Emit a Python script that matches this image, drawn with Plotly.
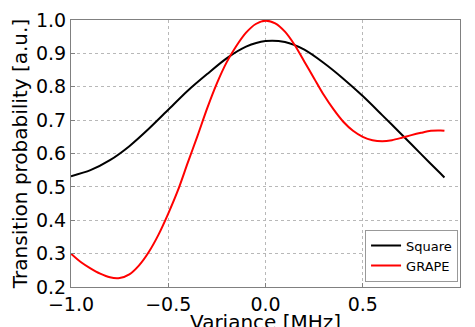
import plotly.graph_objects as go

square_x = [-1.0, -0.9, -0.8, -0.7, -0.6, -0.5, -0.4, -0.3, -0.2, -0.1, 0.0, 0.1, 0.2, 0.3, 0.4, 0.5, 0.6, 0.7, 0.8, 0.9, 0.92]
square_y = [0.532, 0.55, 0.58, 0.622, 0.674, 0.731, 0.788, 0.838, 0.885, 0.92, 0.937, 0.934, 0.911, 0.871, 0.824, 0.772, 0.715, 0.657, 0.598, 0.54, 0.528]

grape_x = [-1.0, -0.95, -0.9, -0.85, -0.8, -0.75, -0.7, -0.65, -0.6, -0.55, -0.5, -0.45, -0.4, -0.35, -0.3, -0.25,
           -0.2, -0.15, -0.1, -0.05, 0.0, 0.05, 0.1, 0.15, 0.2, 0.25, 0.3, 0.35, 0.4, 0.45, 0.5, 0.55, 0.6, 0.65,
           0.7, 0.75, 0.8, 0.85, 0.9, 0.92]
grape_y = [0.30, 0.275, 0.256, 0.24, 0.229, 0.227, 0.238, 0.265, 0.305, 0.357, 0.42, 0.49, 0.572, 0.652, 0.735, 0.81,
           0.873, 0.922, 0.962, 0.988, 0.998, 0.99, 0.965, 0.925, 0.875, 0.825, 0.775, 0.732, 0.695, 0.668, 0.65, 0.64,
           0.637, 0.64, 0.647, 0.655, 0.662, 0.668, 0.669, 0.668]

x_ticks = [-1.0, -0.5, 0.0, 0.5, 1.0]
x_tick_labels = ["\u22121.0", "\u22120.5", "0.0", "0.5", "1.0"]
y_ticks = [0.2, 0.3, 0.4, 0.5, 0.6, 0.7, 0.8, 0.9, 1.0]
y_tick_labels = ["0.2", "0.3", "0.4", "0.5", "0.6", "0.7", "0.8", "0.9", "1.0"]
x_title = "Variance [MHz]"
y_title = "Transition probability [a.u.]"

FONT = "DejaVu Sans"

fig = go.Figure()
fig.add_trace(go.Scatter(x=square_x, y=square_y, mode="lines", name="Square",
                         line=dict(color="black", width=2, shape="spline", smoothing=0.8)))
fig.add_trace(go.Scatter(x=grape_x, y=grape_y, mode="lines", name="GRAPE",
                         line=dict(color="red", width=2, shape="spline", smoothing=0.8)))

fig.add_annotation(text=x_title, xref="paper", yref="paper", x=0.5, y=0,
                   xanchor="center", yanchor="top", yshift=-21, showarrow=False,
                   font=dict(size=20, family=FONT, color="black"))

fig.update_layout(
    width=475, height=327,
    margin=dict(l=71, r=15, t=20, b=40),
    paper_bgcolor="white", plot_bgcolor="white",
    font=dict(family=FONT, color="black"),
    showlegend=True,
    legend=dict(x=0.995, y=0.02, xanchor="right", yanchor="bottom",
                bordercolor="#999999", borderwidth=1, bgcolor="white",
                font=dict(size=13, family=FONT), itemwidth=30, tracegroupgap=0),
    xaxis=dict(range=[-1.0, 1.0], tickvals=x_ticks, ticktext=x_tick_labels, automargin=False,
               tickfont=dict(size=19), showgrid=True, gridcolor="#b8b8b8", griddash="dot", gridwidth=1,
               showline=True, linecolor="#808080", mirror=True, zeroline=False,
               ticks="inside", ticklen=4, tickcolor="#808080"),
    yaxis=dict(range=[0.2, 1.0], tickvals=y_ticks, ticktext=y_tick_labels, automargin=False,
               tickfont=dict(size=19), showgrid=True, gridcolor="#b8b8b8", griddash="dot", gridwidth=1,
               showline=True, linecolor="#808080", mirror=True, zeroline=False,
               ticks="inside", ticklen=4, tickcolor="#808080",
               title=dict(text=y_title, font=dict(size=20), standoff=2)),
)

fig.write_html("out.html", config={"displayModeBar": False},
               post_script="document.body.style.margin='0';")
